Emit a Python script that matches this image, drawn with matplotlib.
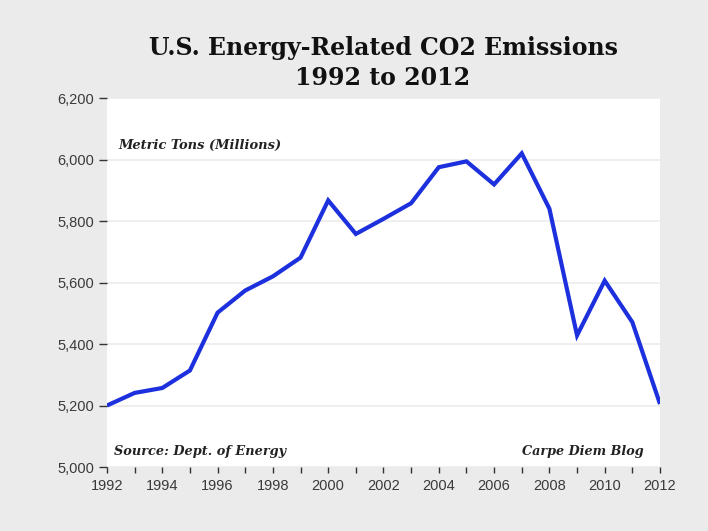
import matplotlib
matplotlib.use("Agg")
import matplotlib.pyplot as plt
from matplotlib.ticker import FuncFormatter, MultipleLocator

years = list(range(1992, 2013))
emissions = [5200, 5241, 5257, 5314, 5502, 5574, 5620, 5681, 5867, 5758,
             5807, 5858, 5975, 5994, 5919, 6020, 5840, 5428, 5606, 5471, 5205]
title_lines = ["U.S. Energy-Related CO2 Emissions", "1992 to 2012"]
yticks = [5000, 5200, 5400, 5600, 5800, 6000, 6200]
xticks = list(range(1992, 2013, 2))

bg = "#ebebeb"
fig = plt.figure(figsize=(7.08, 5.31), dpi=100, facecolor=bg)
ax = fig.add_axes([0.1511, 0.1205, 0.7811, 0.6949])
ax.set_facecolor("white")

ax.plot(years, emissions, color="#1c30dd", lw=3.0, solid_joinstyle="miter",
        solid_capstyle="butt", zorder=3)

ax.set_xlim(1992, 2012)
ax.set_ylim(5000, 6200)
ax.set_yticks(yticks)
ax.yaxis.set_major_formatter(FuncFormatter(lambda v, p: f"{int(v):,}"))
ax.set_xticks(xticks)
ax.xaxis.set_minor_locator(MultipleLocator(1))
for s in ax.spines.values():
    s.set_visible(False)
ax.grid(axis="y", color="#ececec", lw=1.2, zorder=0)
ax.tick_params(axis="y", direction="out", length=6, width=1, color="#333333",
               labelsize=10.5, labelcolor="#3a3a3a", pad=3)
ax.tick_params(axis="x", which="both", direction="out", length=4.5, width=1,
               color="#333333", labelsize=10.5, labelcolor="#3a3a3a", pad=4)
for lab in ax.get_xticklabels() + ax.get_yticklabels():
    lab.set_family("Liberation Sans")

fig.text(0.541, 0.909, title_lines[0], ha="center", va="center",
         fontsize=17, fontweight="bold", family="DejaVu Serif", color="#111111")
fig.text(0.541, 0.854, title_lines[1], ha="center", va="center",
         fontsize=17, fontweight="bold", family="DejaVu Serif", color="#111111")

ax.text(0.02, 0.872, "Metric Tons (Millions)", transform=ax.transAxes,
        ha="left", va="center", fontsize=9.4, fontweight="bold", style="italic",
        family="DejaVu Serif", color="#222222")
ax.text(0.013, 0.042, "Source: Dept. of Energy", transform=ax.transAxes,
        ha="left", va="center", fontsize=9.25, fontweight="bold", style="italic",
        family="DejaVu Serif", color="#222222")
ax.text(0.97, 0.042, "Carpe Diem Blog", transform=ax.transAxes,
        ha="right", va="center", fontsize=9.2, fontweight="bold", style="italic",
        family="DejaVu Serif", color="#222222")

fig.savefig("out.png", dpi=100, facecolor=bg)
